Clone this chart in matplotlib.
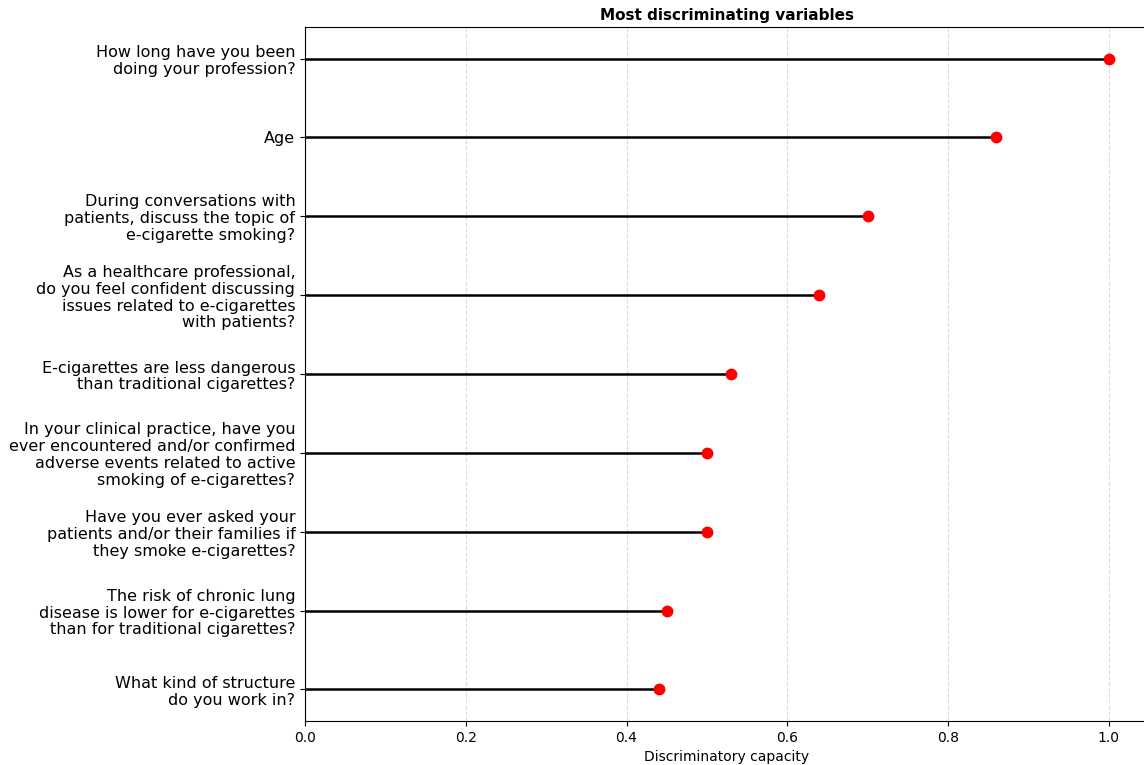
import matplotlib

matplotlib.use("Agg")

import matplotlib.pyplot as plt

questions = [
    "How long have you been\ndoing your profession?",
    "Age",
    "During conversations with\npatients, discuss the topic of\ne-cigarette smoking?",
    "As a healthcare professional,\ndo you feel confident discussing\nissues related to e-cigarettes\nwith patients?",
    "E-cigarettes are less dangerous\nthan traditional cigarettes?",
    "In your clinical practice, have you\never encountered and/or confirmed\nadverse events related to active\nsmoking of e-cigarettes?",
    "Have you ever asked your\npatients and/or their families if\nthey smoke e-cigarettes?",
    "The risk of chronic lung\ndisease is lower for e-cigarettes\nthan for traditional cigarettes?",
    "What kind of structure\ndo you work in?",
]
capacity = [1.00, 0.86, 0.70, 0.64, 0.53, 0.50, 0.50, 0.45, 0.44]

# plot from bottom to top
labels = questions[::-1]
values = capacity[::-1]
ypos = list(range(len(labels)))

fig = plt.figure(figsize=(11.44, 7.65), dpi=100)
ax = fig.add_axes([305 / 1144, 44 / 765, 844 / 1144, 694 / 765])

ax.hlines(ypos, 0, values, color="black", linewidth=1.8, zorder=2)
ax.plot(values, ypos, "o", color="red", markersize=7.5, zorder=3)

ax.set_yticks(ypos)
ax.set_yticklabels(labels, fontsize=11.5)
for t in ax.get_yticklabels():
    t.set_linespacing(1.16)
ax.set_xlim(0, 1.05)
ax.set_xlabel("Discriminatory capacity", fontsize=10)
ax.set_title("Most discriminating variables", fontweight="bold", fontsize=11, pad=5)
ax.grid(axis="x", linestyle="--", color="lightgray", alpha=0.8, zorder=0)
ax.set_axisbelow(True)

fig.savefig("out.png", dpi=100)
